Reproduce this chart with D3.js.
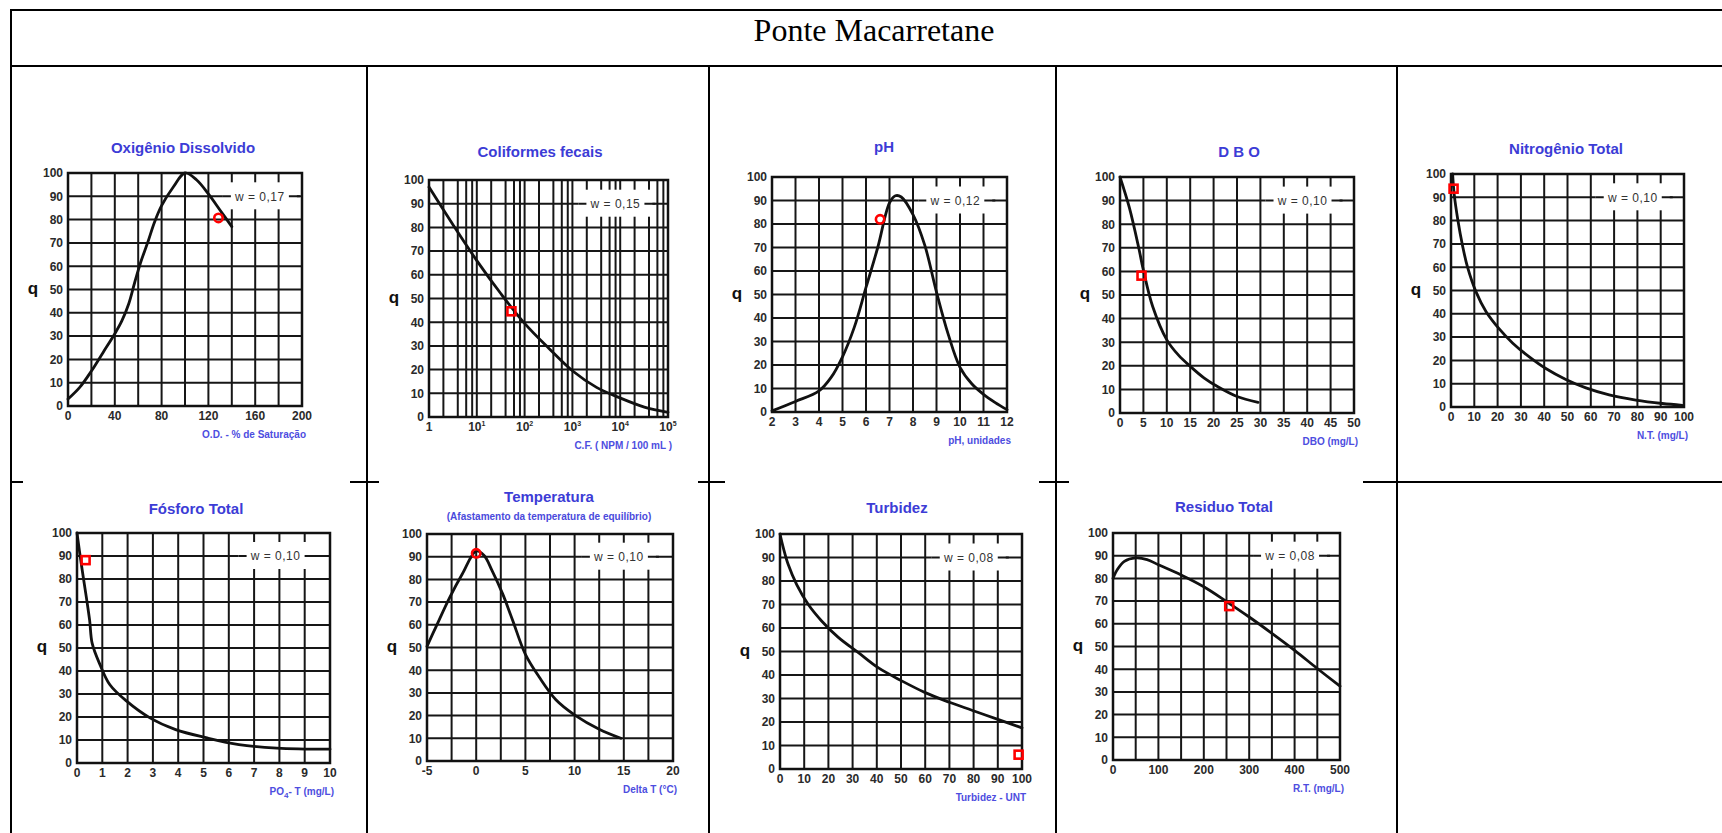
<!DOCTYPE html>
<html>
<head>
    <meta charset="utf-8">
    <title>Ponte Macarretane</title>
    <style>
    body { margin: 0; background: #fff; }
    svg { display: block; }
    .station { font: 32px "Liberation Serif", "Times New Roman", serif; fill: #000; }
    .ttl { font: bold 15px "Liberation Sans", Arial, sans-serif; fill: #3c3cd6; }
    .sub { font: bold 10px "Liberation Sans", Arial, sans-serif; fill: #4a4adc; }
    .tick { font: bold 12px "Liberation Sans", Arial, sans-serif; fill: #2a2a2a; }
    .xlab { font: bold 10px "Liberation Sans", Arial, sans-serif; fill: #4d4de0; }
    .qlab { font: bold 17px "Liberation Sans", Arial, sans-serif; fill: #111; }
    .wlab { font: 12px "Liberation Sans", Arial, sans-serif; fill: #333; letter-spacing: .5px; }
    </style>
</head>
<body>
<script src="https://cdn.jsdelivr.net/npm/d3@7"></script>
<script>

var width = 1722,
    height = 833

var stationName = 'Ponte Macarretane'

var titles = ['Oxigênio Dissolvido', 'Coliformes fecais', 'pH', 'D B O', 'Nitrogênio Total',
              'Fósforo Total', 'Temperatura', 'Turbidez', 'Residuo Total']
var subtitles = [null, null, null, null, null, null, '(Afastamento da temperatura de equilíbrio)', null, null]
var xLabels = ['O.D. - % de Saturação', 'C.F. ( NPM / 100 mL )', 'pH, unidades', 'DBO (mg/L)', 'N.T. (mg/L)',
               'PO4- T (mg/L)', 'Delta T (°C)', 'Turbidez - UNT', 'R.T. (mg/L)']
var weights = ['0,17', '0,15', '0,12', '0,10', '0,10', '0,10', '0,10', '0,08', '0,08']

// x axes: domain, grid step (null = log grid) and labelled ticks
var xDomains = [[0, 200], [1, 1e5], [2, 12], [0, 50], [0, 100], [0, 10], [-5, 20], [0, 100], [0, 500]]
var xGridSteps = [20, null, 1, 5, 10, 1, 2.5, 10, 50]
var logGridMultiples = [1, 2, 4, 6, 8]
var xTickValues = [
    [0, 40, 80, 120, 160, 200],
    [1, 10, 100, 1000, 10000, 100000],
    [2, 3, 4, 5, 6, 7, 8, 9, 10, 11, 12],
    [0, 5, 10, 15, 20, 25, 30, 35, 40, 45, 50],
    [0, 10, 20, 30, 40, 50, 60, 70, 80, 90, 100],
    [0, 1, 2, 3, 4, 5, 6, 7, 8, 9, 10],
    [-5, 0, 5, 10, 15, 20],
    [0, 10, 20, 30, 40, 50, 60, 70, 80, 90, 100],
    [0, 100, 200, 300, 400, 500]
]
var qTicks = [0, 10, 20, 30, 40, 50, 60, 70, 80, 90, 100]

// curves
var odX = [0, 10, 20, 30, 40, 46, 52, 57, 62, 68, 74, 80, 90, 100, 110, 120, 130, 140]
var odQ = [3, 8, 15, 23, 31, 36.5, 44, 53, 61.5, 70, 79, 86, 94, 100, 97, 91, 84, 77]

var cfX = [1, 3.2, 10, 32, 100, 320, 1000, 3200, 10000, 32000, 100000]
var cfQ = [97, 81, 66, 52, 39.5, 29, 19.5, 12.5, 8, 4.2, 2]

var phX = [2, 3, 4, 4.5, 5, 5.5, 6, 6.5, 7, 7.25, 7.5, 8, 8.5, 9, 9.5, 10, 10.5, 11, 11.5, 12]
var phQ = [0.5, 4.5, 9, 14.5, 23.5, 36, 53, 70, 89, 92, 91.5, 84, 71, 51, 33, 19, 12, 7.5, 4, 1]

var dboX = [0, 2, 4, 5, 7, 10, 12.5, 15, 18, 21, 25, 29.5]
var dboQ = [100, 87, 70, 60.5, 45, 31, 24.5, 19.8, 14.8, 11, 7, 4.5]

var ntX = [0.7, 1.4, 2.9, 5, 7.1, 10.7, 15, 20.7, 26.4, 33.6, 40.7, 49.3, 57.9, 67.9, 79.3, 90.7, 99.3]
var ntQ = [100, 91, 80.5, 69, 60, 49.5, 41, 33.5, 27.5, 21.5, 16.5, 11.8, 8.2, 5.2, 3, 1.5, 0.7]

var ptX = [0, 0.17, 0.37, 0.5, 0.6, 0.9, 1.3, 1.95, 2.9, 3.9, 5.1, 6.4, 7.9, 10]
var ptQ = [100, 86.5, 72, 62, 52, 43, 34, 27, 19.5, 14.5, 11, 8, 6.5, 6]

var tempX = [-5, -4.1, -2.7, -1.4, 0, 0.8, 1.6, 2.7, 3.7, 5, 6.4, 8.1, 10.1, 12.5, 14.7]
var tempQ = [50.5, 59, 72, 82.5, 92.5, 90.5, 84, 73.5, 62, 47, 37, 27, 20, 14, 10]

var turbX = [0, 1.4, 3.4, 6.9, 11.7, 17.2, 24.1, 32.4, 40.7, 50.3, 60, 69.7, 79.3, 90.3, 100]
var turbQ = [100, 94, 87, 78.5, 70, 63, 56, 49.5, 43, 37.5, 32.5, 28.5, 25, 21, 17.5]

var rtX = [0, 10, 25, 50, 75, 100, 150, 200, 250, 300, 350, 400, 450, 500]
var rtQ = [80, 84, 87.5, 89, 88.3, 86, 81.5, 76.3, 69.8, 63, 55.8, 48.3, 40.3, 32.5]

var curveX = [odX, cfX, phX, dboX, ntX, ptX, tempX, turbX, rtX]
var curveQ = [odQ, cfQ, phQ, dboQ, ntQ, ptQ, tempQ, turbQ, rtQ]

// measured station values (red marks)
var markX = [128.6, 53, 6.6, 4.6, 1.1, 0.34, 0, 98.6, 256]
var markQ = [80.7, 44.6, 82, 58.2, 93.7, 88.2, 91.5, 6.1, 67.8]
var markShape = ['circle', 'square', 'circle', 'square', 'square', 'square', 'circle', 'square', 'square']

// layout of each pasted chart (plot box, title anchor, w label position, white background)
var boxes = [
    {l: 68,   r: 302,  t: 173, b: 406, tx: 183,  ty: 153, wx: 0.82},
    {l: 429,  r: 668,  t: 180, b: 417, tx: 540,  ty: 157, wx: 0.78},
    {l: 772,  r: 1007, t: 177, b: 412, tx: 884,  ty: 152, wx: 0.78},
    {l: 1120, r: 1354, t: 177, b: 413, tx: 1239, ty: 157, wx: 0.78},
    {l: 1451, r: 1684, t: 174, b: 407, tx: 1566, ty: 154, wx: 0.78},
    {l: 77,   r: 330,  t: 533, b: 763, tx: 196,  ty: 514, wx: 0.785, bg: [23, 350]},
    {l: 427,  r: 673,  t: 534, b: 761, tx: 549,  ty: 502, wx: 0.78, sy: 520, bg: [379, 698]},
    {l: 780,  r: 1022, t: 534, b: 769, tx: 897,  ty: 513, wx: 0.78, bg: [725, 1039]},
    {l: 1113, r: 1340, t: 533, b: 760, tx: 1224, ty: 512, wx: 0.78, bg: [1069, 1363]}
]

var colEdges = [11, 367, 709, 1056, 1397],
    tableTop = 10,
    titleBottom = 66,
    rowDivider = 482

var svg = d3.select('body').append('svg')
    .attr('width', width)
    .attr('height', height)

// table
var table = svg.append('g').attr('stroke', '#000').attr('stroke-width', 2)
table.append('line').attr('x1', colEdges[0]).attr('x2', width).attr('y1', tableTop).attr('y2', tableTop)
table.append('line').attr('x1', colEdges[0]).attr('x2', width).attr('y1', titleBottom).attr('y2', titleBottom)
table.append('line').attr('x1', colEdges[0]).attr('x2', width).attr('y1', rowDivider).attr('y2', rowDivider)
table.selectAll('line.col').data(colEdges).enter().append('line')
    .attr('class', 'col')
    .attr('x1', function(d){ return d })
    .attr('x2', function(d){ return d })
    .attr('y1', function(d, i){ return i === 0 ? tableTop - 1 : titleBottom })
    .attr('y2', height)

svg.append('text')
    .attr('class', 'station')
    .attr('x', 874)
    .attr('y', 41)
    .attr('text-anchor', 'middle')
    .text(stationName)

var gridColor = '#161616'

boxes.forEach(function(box, i){
    var g = svg.append('g')

    // pasted images in the second row hide the row border
    if (box.bg) {
        g.append('rect')
            .attr('x', box.bg[0]).attr('y', rowDivider - 2)
            .attr('width', box.bg[1] - box.bg[0]).attr('height', height - rowDivider + 2)
            .attr('fill', '#fff')
    }

    var isLog = xGridSteps[i] === null
    var x = (isLog ? d3.scaleLog() : d3.scaleLinear())
        .domain(xDomains[i])
        .range([box.l, box.r])
    var y = d3.scaleLinear().domain([0, 100]).range([box.b, box.t])

    // grid
    var xGrid = isLog
        ? x.ticks().filter(function(d){
            var m = Math.round(d / Math.pow(10, Math.floor(Math.log10(d) + 1e-9)))
            return logGridMultiples.indexOf(m) >= 0
        })
        : d3.range(xDomains[i][0], xDomains[i][1] + xGridSteps[i] / 2, xGridSteps[i])
    g.selectAll('line.vg').data(xGrid).enter().append('line')
        .attr('class', 'vg')
        .attr('x1', function(d){ return x(d) }).attr('x2', function(d){ return x(d) })
        .attr('y1', box.t).attr('y2', box.b)
        .attr('stroke', gridColor).attr('stroke-width', 2)
    g.selectAll('line.hg').data(qTicks).enter().append('line')
        .attr('class', 'hg')
        .attr('x1', box.l).attr('x2', box.r)
        .attr('y1', function(d){ return y(d) }).attr('y2', function(d){ return y(d) })
        .attr('stroke', gridColor).attr('stroke-width', 2)
    g.append('rect')
        .attr('x', box.l).attr('y', box.t)
        .attr('width', box.r - box.l).attr('height', box.b - box.t)
        .attr('fill', 'none').attr('stroke', '#111').attr('stroke-width', 2.5)

    // weight label box
    var wcx = box.l + box.wx * (box.r - box.l),
        wcy = y(90)
    g.append('rect')
        .attr('x', wcx - 37).attr('y', wcy - 14).attr('width', 74).attr('height', 27)
        .attr('fill', '#fff')
    g.append('line')
        .attr('x1', wcx - 37).attr('x2', Math.min(wcx + 40, box.r))
        .attr('y1', wcy).attr('y2', wcy)
        .attr('stroke', gridColor).attr('stroke-width', 2)
    g.append('rect')
        .attr('x', wcx - 29).attr('y', wcy - 8).attr('width', 58).attr('height', 16)
        .attr('fill', '#fff')
    g.append('text')
        .attr('class', 'wlab')
        .attr('x', wcx).attr('y', wcy)
        .attr('dy', '.35em')
        .attr('text-anchor', 'middle')
        .text('w = ' + weights[i])

    // curve
    var pts = curveX[i].map(function(d, k){ return [d, curveQ[i][k]] })
    g.append('path')
        .datum(pts)
        .attr('fill', 'none')
        .attr('stroke', '#111')
        .attr('stroke-width', 2.8)
        .attr('stroke-linejoin', 'round')
        .attr('stroke-linecap', 'round')
        .attr('d', d3.line()
            .x(function(d){ return x(d[0]) })
            .y(function(d){ return y(d[1]) })
            .curve(d3.curveCatmullRom.alpha(0.5)))

    // red mark
    var mx = x(markX[i]), my = y(markQ[i])
    if (markShape[i] === 'circle') {
        g.append('circle')
            .attr('cx', mx).attr('cy', my).attr('r', 4.2)
            .attr('fill', 'none').attr('stroke', '#ff0000').attr('stroke-width', 2.6)
    } else {
        g.append('rect')
            .attr('x', mx - 4).attr('y', my - 4).attr('width', 8).attr('height', 8)
            .attr('fill', 'none').attr('stroke', '#ff0000').attr('stroke-width', 2.6)
    }

    // tick labels
    g.selectAll('text.qt').data(qTicks).enter().append('text')
        .attr('class', 'tick qt')
        .attr('x', box.l - 5)
        .attr('y', function(d){ return y(d) })
        .attr('dy', '.36em')
        .attr('text-anchor', 'end')
        .text(function(d){ return d })

    var xt = g.selectAll('text.xt').data(xTickValues[i]).enter().append('text')
        .attr('class', 'tick xt')
        .attr('x', function(d){ return x(d) })
        .attr('y', box.b + 14)
        .attr('text-anchor', 'middle')
    if (isLog) {
        xt.each(function(d){
            var t = d3.select(this)
            if (d === 1) { t.text('1'); return }
            t.append('tspan').text('10')
            t.append('tspan').attr('dy', -5).attr('font-size', 7).text(Math.round(Math.log10(d)))
        })
    } else {
        xt.text(function(d){ return d })
    }

    // q label
    g.append('text')
        .attr('class', 'qlab')
        .attr('x', box.l - 35)
        .attr('y', y(50) + 4)
        .attr('text-anchor', 'middle')
        .text('q')

    // titles
    g.append('text')
        .attr('class', 'ttl')
        .attr('x', box.tx).attr('y', box.ty)
        .attr('text-anchor', 'middle')
        .text(titles[i])
    if (subtitles[i]) {
        g.append('text')
            .attr('class', 'sub')
            .attr('x', box.tx).attr('y', box.sy)
            .attr('text-anchor', 'middle')
            .text(subtitles[i])
    }

    // x axis label (PO4 has a subscript)
    var xl = g.append('text')
        .attr('class', 'xlab')
        .attr('x', box.r + 4)
        .attr('y', box.b + 32)
        .attr('text-anchor', 'end')
    if (xLabels[i].indexOf('PO4') === 0) {
        xl.append('tspan').text('PO')
        xl.append('tspan').attr('dy', 3).attr('font-size', 8).text('4')
        xl.append('tspan').attr('dy', -3).text(xLabels[i].slice(3))
    } else {
        xl.text(xLabels[i])
    }
})

</script>
</body>
</html>
